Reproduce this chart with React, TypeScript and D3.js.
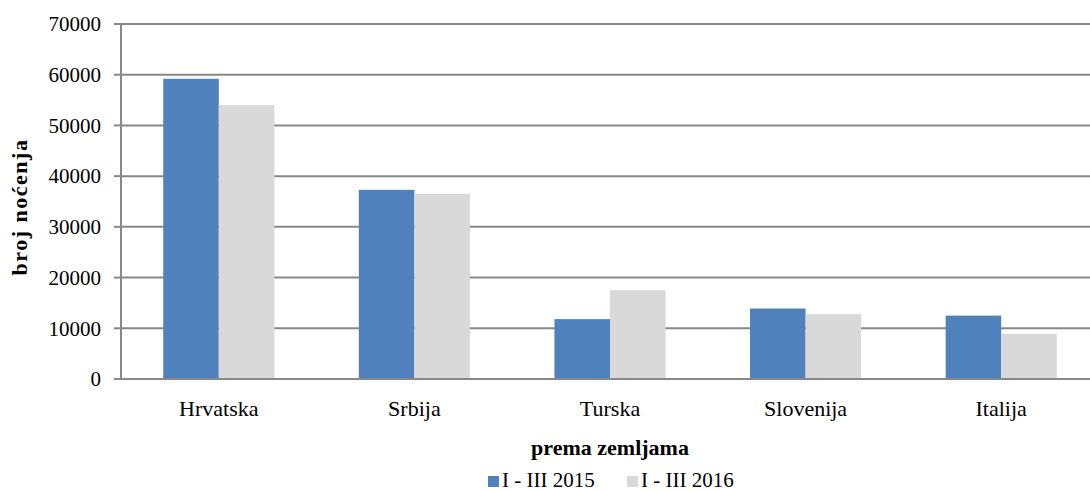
import React from 'react';
import * as d3 from 'd3';

const categories = ['Hrvatska', 'Srbija', 'Turska', 'Slovenija', 'Italija'];
const seriesNames = ['I - III 2015', 'I - III 2016'];
const values2015 = [59200, 37300, 11800, 13900, 12500];
const values2016 = [54000, 36500, 17500, 12800, 8900];
const yTicks = [0, 10000, 20000, 30000, 40000, 50000, 60000, 70000];
const colors = ['#4F81BD', '#D9D9D9'];

const W = 1090;
const H = 491;
const font = "'Liberation Serif', 'Times New Roman', serif";

const App = () => {
  const left = 121;
  const right = 1099;
  const top = 24;
  const bottom = 379;

  const x = d3.scaleBand().domain(categories).range([left, right]);
  const xInner = d3.scaleBand()
    .domain(seriesNames)
    .range([0, x.bandwidth()])
    .paddingInner(0)
    .paddingOuter(0.76);
  const y = d3.scaleLinear().domain([0, 70000]).range([bottom, top]);

  const series = [values2015, values2016];

  return (
    <svg width={W} height={H} style={{ position: 'absolute', left: 0, top: 0, background: '#fff' }}>
      {/* gridlines */}
      {yTicks.filter(t => t > 0).map(t => (
        <line key={t} x1={left} x2={W} y1={y(t)} y2={y(t)} stroke="#888" strokeWidth={2} />
      ))}
      {/* bars */}
      {series.map((vals, si) =>
        categories.map((c, i) => (
          <rect
            key={c + si}
            x={x(c)! + xInner(seriesNames[si])!}
            y={y(vals[i])}
            width={xInner.bandwidth()}
            height={bottom - y(vals[i])}
            fill={colors[si]}
          />
        ))
      )}
      {/* axes */}
      <line x1={left} x2={W} y1={bottom} y2={bottom} stroke="#888" strokeWidth={2} />
      <line x1={left} x2={left} y1={top - 1} y2={bottom + 1} stroke="#888" strokeWidth={2} />
      {yTicks.map(t => (
        <g key={t}>
          <line x1={left - 7} x2={left} y1={y(t)} y2={y(t)} stroke="#888" strokeWidth={2} />
          <text x={101} y={y(t)} dy="0.35em" textAnchor="end" fontFamily={font} fontSize={21} fill="#000">
            {t}
          </text>
        </g>
      ))}
      {categories.map(c => (
        <text key={c} x={x(c)! + x.bandwidth() / 2} y={416} textAnchor="middle" fontFamily={font} fontSize={22} fill="#000">
          {c}
        </text>
      ))}
      <text x={(left + right) / 2} y={455} textAnchor="middle" fontFamily={font} fontSize={22} fontWeight="bold" fill="#000">
        prema zemljama
      </text>
      <text
        transform={`translate(27,207) rotate(-90)`}
        textAnchor="middle"
        fontFamily={font}
        fontSize={22}
        fontWeight="bold"
        letterSpacing={1.5}
        fill="#000"
      >
        broj noćenja
      </text>
      {/* legend */}
      <rect x={488} y={476} width={11} height={11} fill={colors[0]} />
      <text x={502} y={487} fontFamily={font} fontSize={21} fill="#000">{seriesNames[0]}</text>
      <rect x={627} y={476} width={11} height={11} fill={colors[1]} />
      <text x={641} y={487} fontFamily={font} fontSize={21} fill="#000">{seriesNames[1]}</text>
    </svg>
  );
};

export default App;
